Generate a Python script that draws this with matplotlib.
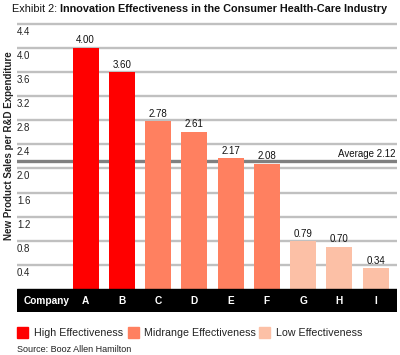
import matplotlib
matplotlib.use("Agg")
import matplotlib.pyplot as plt
from matplotlib.patches import Rectangle

companies = ["A", "B", "C", "D", "E", "F", "G", "H", "I"]
values = [4.00, 3.60, 2.78, 2.61, 2.17, 2.08, 0.79, 0.70, 0.34]
groups = ["High", "High", "Mid", "Mid", "Mid", "Mid", "Low", "Low", "Low"]
average = 2.12
yticks = [0.4, 0.8, 1.2, 1.6, 2.0, 2.4, 2.8, 3.2, 3.6, 4.0, 4.4]
group_labels = {"High": "High Effectiveness", "Mid": "Midrange Effectiveness", "Low": "Low Effectiveness"}
colors = {"High": "#FF0000", "Mid": "#FF8060", "Low": "#FCC0A6"}

plt.rcParams['font.family'] = ['Liberation Sans', 'DejaVu Sans']

W, H = 400, 355
fig = plt.figure(figsize=(W / 100, H / 100), dpi=100)

def fx(px):
    return px / W

def fy(py):
    return 1 - py / H

ax_top_px, ax_bot_px = 22, 312
zero_px = 289
ppu = 60.3
ax = fig.add_axes([fx(17), fy(ax_bot_px), fx(397) - fx(17), (ax_bot_px - ax_top_px) / H])
ymax = (zero_px - ax_top_px) / ppu
ymin = -(ax_bot_px - zero_px) / ppu
ax.set_ylim(ymin, ymax)
xs = list(range(len(companies)))
xleft = -1.895
xright = 8.59
ax.set_xlim(xleft, xright)
ax.axis('off')

for t in yticks:
    ax.axhline(t, color="#C0C0C0", lw=1.7, zorder=1)
    ax.text(0.0, t - 0.05, f"{t:.1f}", transform=ax.get_yaxis_transform(),
            ha='left', va='top', fontsize=7, color='#222222', zorder=2)

ax.axhline(average, color="#808080", lw=2.4, zorder=1.5)
ax.text(0.995, average + 0.03, f"Average {average:.2f}", transform=ax.get_yaxis_transform(),
        ha='right', va='bottom', fontsize=7, color='#111111')

bar_colors = [colors[g] for g in groups]
ax.bar(xs, values, width=0.72, color=bar_colors, zorder=3)
for x, v in zip(xs, values):
    ax.text(x, v + 0.04, f"{v:.2f}", ha='center', va='bottom', fontsize=7, color='#111111', zorder=4)

ax.add_patch(Rectangle((xleft, ymin), xright - xleft, -ymin, color='black', zorder=3))
band_mid = ymin / 2
ax.text(xleft + 0.17, band_mid, "Company", ha='left', va='center', fontsize=7.3,
        color='white', fontweight='bold', zorder=4)
for x, c in zip(xs, companies):
    ax.text(x, band_mid, c, ha='center', va='center', fontsize=7.3, color='white',
            fontweight='bold', zorder=4)

# Title
t1 = fig.text(fx(12), fy(9), "Exhibit 2: ", ha='left', va='center', fontsize=7.8, color='#111111')
fig.canvas.draw()
bb = t1.get_window_extent()
fig.text(bb.x1 / W, fy(9), "Innovation Effectiveness in the Consumer Health-Care Industry",
         ha='left', va='center', fontsize=7.8, fontweight='bold', color='#111111')

# Y label
fig.text(fx(9), fy(146), "New Product Sales per R&D Expenditure", rotation=90,
         ha='center', va='center', fontsize=7, fontweight='bold', color='#222222')

# Legend
leg_items = [("High", 17, 34), ("Mid", 128, 144), ("Low", 259, 276)]
for g, sx, tx in leg_items:
    fig.patches.append(Rectangle((fx(sx), fy(338)), 11 / W, 11 / H, color=colors[g],
                                 transform=fig.transFigure, figure=fig))
    fig.text(fx(tx), fy(332.5), group_labels[g], ha='left', va='center', fontsize=7.7, color='#222222')

fig.text(fx(17), fy(350), "Source: Booz Allen Hamilton", ha='left', va='center', fontsize=6.5, color='#222222')

fig.savefig("out.png", dpi=100)
